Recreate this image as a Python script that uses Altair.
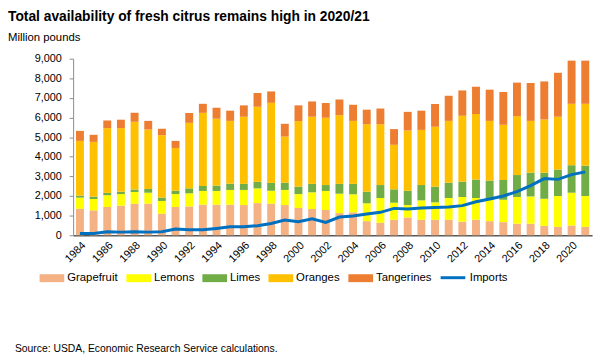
import altair as alt
import pandas as pd

years = [1984, 1985, 1986, 1987, 1988, 1989, 1990, 1991, 1992, 1993,
         1994, 1995, 1996, 1997, 1998, 1999, 2000, 2001, 2002, 2003,
         2004, 2005, 2006, 2007, 2008, 2009, 2010, 2011, 2012, 2013,
         2014, 2015, 2016, 2017, 2018, 2019, 2020, 2021]

grapefruit = [1350, 1270, 1440, 1510, 1610, 1610, 1100, 1440, 1470, 1560,
              1560, 1560, 1540, 1640, 1610, 1540, 1390, 1340, 1290, 1130,
              1170, 720, 640, 790, 910, 790, 790, 790, 690, 790,
              720, 670, 590, 590, 480, 430, 500, 430]
lemons = [570, 580, 600, 590, 600, 560, 650, 660, 670, 700,
          700, 750, 770, 750, 660, 770, 710, 850, 970, 990,
          920, 910, 1260, 870, 630, 990, 890, 1110, 1260, 1110,
          1080, 1140, 1360, 1390, 1380, 1570, 1670, 1570]
limes = [100, 120, 120, 120, 120, 190, 170, 170, 250, 250,
         270, 320, 310, 330, 400, 370, 380, 430, 300, 500,
         530, 590, 660, 680, 730, 780, 800, 780, 780, 940,
         990, 1010, 1120, 1210, 1330, 1350, 1400, 1550]
oranges = [2790, 2790, 3300, 3240, 3450, 3030, 3180, 2180, 3340, 3730,
           3410, 3200, 3420, 3830, 4080, 2350, 3340, 3420, 3430, 3500,
           3210, 3440, 3100, 2270, 3070, 2810, 3050, 3150, 3360, 3340,
           3040, 2810, 3000, 2640, 2710, 2690, 3130, 3150]
tangerines = [510, 360, 390, 430, 460, 440, 330, 360, 500, 460,
              560, 520, 580, 700, 580, 650, 800, 780, 750, 800,
              820, 740, 800, 800, 950, 980, 1160, 1280, 1290, 1390,
              1590, 1670, 1710, 1930, 1940, 2240, 2200, 2200]
imports = [90, 90, 180, 160, 180, 160, 180, 320, 280, 280,
           350, 430, 430, 490, 600, 780, 690, 840, 660, 930,
           980, 1080, 1170, 1370, 1340, 1390, 1420, 1440, 1510, 1710,
           1850, 2000, 2220, 2530, 2890, 2850, 3090, 3230]

fruits = ["Grapefruit", "Lemons", "Limes", "Oranges", "Tangerines"]
fruit_colors = ["#F4B183", "#FFFF00", "#70AD47", "#FFC000", "#ED7D31"]
tick_years = [str(y) for y in years[::2]]
y_ticks = [0, 1000, 2000, 3000, 4000, 5000, 6000, 7000, 8000, 9000]

title_text = "Total availability of fresh citrus remains high in 2020/21"
unit_text = "Million pounds"
source_text = "Source: USDA, Economic Research Service calculations."

FONT = "Liberation Sans"

rows = []
series = [grapefruit, lemons, limes, oranges, tangerines]
for i, yr in enumerate(years):
    for k, name in enumerate(fruits):
        rows.append({"year": str(yr), "fruit": name, "value": series[k][i], "order": k})
bars_df = pd.DataFrame(rows)
line_df = pd.DataFrame({"year": [str(y) for y in years], "value": imports,
                        "series": ["Imports"] * len(years)})
source_df = pd.DataFrame({"text": [source_text]})

x_scale = alt.Scale(paddingInner=0.42, paddingOuter=0.21)
x_axis = alt.Axis(values=tick_years, labelAngle=-45, ticks=False,
                  domainColor="#595959", domainWidth=1.5, labelFontSize=11,
                  labelColor="#000000", title=None, labelPadding=4)
y_scale = alt.Scale(domain=[0, 9000], nice=False)
y_axis = alt.Axis(values=y_ticks, format=",.0f", grid=False, tickSize=4,
                  tickColor="#8c8c8c", domainColor="#8c8c8c", labelPadding=8,
                  title=None, labelFontSize=11, labelColor="#000000",
                  labelOverlap=False)

bars = alt.Chart(bars_df).mark_bar().encode(
    x=alt.X("year:O", scale=x_scale, axis=x_axis),
    y=alt.Y("value:Q", stack="zero", scale=y_scale, axis=y_axis),
    color=alt.Color(
        "fruit:N",
        scale=alt.Scale(domain=fruits, range=fruit_colors),
        legend=alt.Legend(orient="none", legendX=-34, legendY=210, direction="horizontal",
                          columns=5, title=None, symbolType="M-1,-0.32H1V0.32H-1Z",
                          symbolSize=625, symbolStrokeWidth=0, labelFontSize=11.5,
                          labelOffset=3, columnPadding=8, labelColor="#000000"),
    ),
    order=alt.Order("order:Q", sort="ascending"),
)

line = alt.Chart(line_df).mark_line(strokeWidth=3).encode(
    x=alt.X("year:O", scale=x_scale, axis=x_axis),
    y=alt.Y("value:Q", scale=y_scale, axis=y_axis),
    stroke=alt.Stroke(
        "series:N",
        scale=alt.Scale(domain=["Imports"], range=["#0070C0"]),
        legend=alt.Legend(orient="none", legendX=371, legendY=208, title=None,
                          symbolType="stroke", symbolSize=625, symbolStrokeWidth=3,
                          labelFontSize=11.5, labelOffset=3, labelColor="#000000"),
    ),
)

source = alt.Chart(source_df).mark_text(align="left", baseline="middle", fontSize=10.5,
                                        color="#000000", font=FONT).encode(
    x=alt.value(-59), y=alt.value(294), text="text:N"
)

chart = alt.layer(bars, line, source).properties(
    width=526,
    height=179,
    autosize="none",
    padding={"left": 66, "top": 49, "right": 6, "bottom": 120},
    title=alt.TitleParams(
        text=title_text, subtitle=unit_text, anchor="start", frame="group", dx=-66,
        fontSize=14, fontWeight="bold", font=FONT, color="#000000",
        subtitleFont=FONT, subtitleFontSize=11.5, subtitleColor="#000000",
        subtitlePadding=9, offset=9,
    ),
).configure_view(stroke=None).configure_axis(labelFont=FONT).configure_legend(labelFont=FONT)

chart.save("out.html", embed_options={"renderer": "svg", "actions": False})
